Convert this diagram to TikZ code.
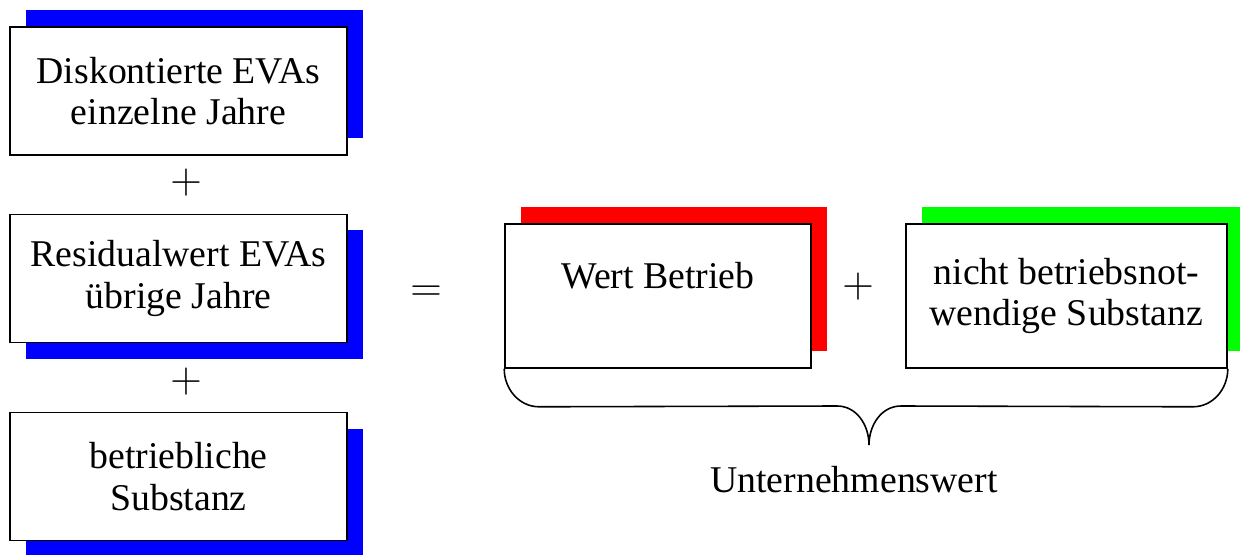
\documentclass[tikz,border=0pt]{standalone}
\usepackage{fontspec}
\setmainfont{Liberation Serif}
\definecolor{evablue}{RGB}{0, 0, 255}
\definecolor{wertred}{RGB}{255, 0, 0}
\definecolor{substgreen}{RGB}{0, 255, 0}
\usetikzlibrary{shadows, calc}

\begin{document}
\begin{tikzpicture}[
  valbox/.style={draw, fill=white, line width=0.9pt, align=center, font=\fontsize{21.5}{23.6}\selectfont},
  evabox/.style={valbox, minimum width=6.74cm, minimum height=2.56cm},
  sumbox/.style={valbox, minimum height=2.88cm},
  upshadow/.style={general shadow={fill=#1, shadow xshift=0.32cm, shadow yshift=0.34cm}},
  downshadow/.style={general shadow={fill=#1, shadow xshift=0.32cm, shadow yshift=-0.32cm}},
  op/.style={inner sep=0pt, font=\fontsize{30}{32}\selectfont}
]
  \useasboundingbox (0, 0) rectangle (24.8, 11.08);

  % left column
  \node[evabox, upshadow=evablue] (disk) at (3.57, 9.26) {Diskontierte EVAs\\einzelne Jahre};
  \node[evabox, downshadow=evablue] (resid) at (3.57, 5.51) {Residualwert EVAs\\übrige Jahre};
  \node[evabox, downshadow=evablue] (subst) at (3.57, 1.55) {betriebliche\\Substanz};
  \node[op] (plusa) at (3.72, 7.42) {$+$};
  \node[op] (plusb) at (3.72, 3.44) {$+$};

  \node[op] (equal) at (8.52, 5.2) {$=$};

  % right side
  \node[sumbox, minimum width=6.12cm, upshadow=wertred] (wert) at (13.16, 5.16) {Wert Betrieb\\~};
  \node[op] (plusc) at (17.16, 5.34) {$+$};
  \node[sumbox, minimum width=6.42cm, upshadow=substgreen] (nbn) at (21.33, 5.16) {nicht betriebsnot-\\wendige Substanz};

  % brace
  \coordinate (tip) at (17.38, 2.18);
  \draw[line width=0.9pt] (wert.south west) to[out=-90, in=180] ++(0.7, -0.76)
    -- ($(tip)+(-0.64, 0.78)$) to[out=0, in=90] (tip)
    to[out=90, in=180] ++(0.64, 0.78)
    -- ($(nbn.south east)+(-0.7, -0.76)$) to[out=0, in=-90] (nbn.south east);
  \node[font=\fontsize{21.5}{23.6}\selectfont] (uw) at (17.08, 1.48) {Unternehmenswert};
\end{tikzpicture}
\end{document}
